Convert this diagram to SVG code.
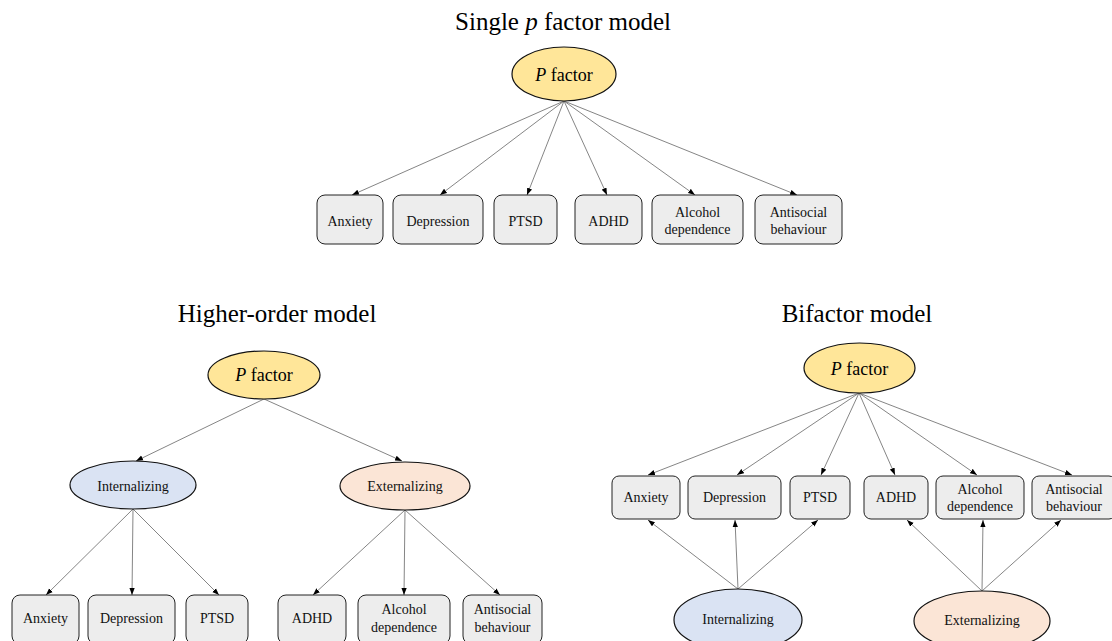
<svg xmlns="http://www.w3.org/2000/svg" width="1112" height="641" viewBox="0 0 1112 641">
<style>
.title{font-family:"Liberation Serif","Times New Roman",serif;font-size:25px;fill:#000;text-anchor:middle}
.lbl{font-family:"Liberation Serif","Times New Roman",serif;font-size:14px;fill:#111;text-anchor:middle}
.plbl{font-family:"Liberation Serif","Times New Roman",serif;font-size:18px;fill:#000;text-anchor:middle}
.box{fill:#EDEDED;stroke:#222;stroke-width:1}
.pf{fill:#FFE699;stroke:#111;stroke-width:1.2}
.inf{fill:#DAE3F3;stroke:#111;stroke-width:1.2}
.exf{fill:#FBE5D6;stroke:#111;stroke-width:1.2}
.con line{stroke:#666;stroke-width:0.8;marker-end:url(#ah)}
</style>
<defs>
<marker id="ah" viewBox="0 0 8 6" refX="8" refY="3" markerWidth="7" markerHeight="6" markerUnits="userSpaceOnUse" orient="auto">
<path d="M0,0 L8,3 L0,6 z" fill="#000"/>
</marker>
</defs>
<rect width="1112" height="641" fill="#fff"/>

<!-- Titles -->
<text class="title" x="563" y="30">Single <tspan font-style="italic">p</tspan> factor model</text>
<text class="title" x="277" y="322">Higher-order model</text>
<text class="title" x="857" y="322">Bifactor model</text>

<!-- Connectors -->
<g id="connectors" class="con">
<line x1="564" y1="101" x2="352" y2="195"/>
<line x1="564" y1="101" x2="440" y2="195"/>
<line x1="564" y1="101" x2="527" y2="195"/>
<line x1="564" y1="101" x2="607" y2="195"/>
<line x1="564" y1="101" x2="695" y2="195"/>
<line x1="564" y1="101" x2="797" y2="195"/>

<line x1="264" y1="399" x2="136" y2="461"/>
<line x1="264" y1="399" x2="402" y2="461"/>
<line x1="133" y1="509" x2="46" y2="595"/>
<line x1="133" y1="509" x2="132" y2="595"/>
<line x1="133" y1="509" x2="219" y2="595"/>
<line x1="405" y1="510" x2="313" y2="595"/>
<line x1="405" y1="510" x2="404" y2="595"/>
<line x1="405" y1="510" x2="500" y2="595"/>

<line x1="859" y1="393" x2="648" y2="475"/>
<line x1="859" y1="393" x2="737" y2="475"/>
<line x1="859" y1="393" x2="821" y2="475"/>
<line x1="859" y1="393" x2="895" y2="475"/>
<line x1="859" y1="393" x2="977" y2="475"/>
<line x1="859" y1="393" x2="1072" y2="475"/>
<line x1="738" y1="589" x2="648" y2="520"/>
<line x1="738" y1="589" x2="735" y2="520"/>
<line x1="738" y1="589" x2="818" y2="520"/>
<line x1="982" y1="591" x2="907" y2="520"/>
<line x1="982" y1="591" x2="983" y2="520"/>
<line x1="982" y1="591" x2="1061" y2="520"/>
</g>

<!-- Single p factor model -->
<g id="s-pfactor"><ellipse class="pf" cx="564" cy="74" rx="52" ry="27"/><text class="plbl" x="564" y="81"><tspan font-style="italic">P</tspan> factor</text></g>
<g id="s-anxiety"><rect class="box" x="317" y="195" width="66" height="49" rx="8"/><text class="lbl" x="350" y="226">Anxiety</text></g>
<g id="s-depression"><rect class="box" x="393" y="195" width="90" height="49" rx="8"/><text class="lbl" x="438" y="226">Depression</text></g>
<g id="s-ptsd"><rect class="box" x="494" y="195" width="63" height="49" rx="8"/><text class="lbl" x="525.5" y="226">PTSD</text></g>
<g id="s-adhd"><rect class="box" x="575" y="195" width="67" height="49" rx="8"/><text class="lbl" x="608.5" y="226">ADHD</text></g>
<g id="s-alcohol"><rect class="box" x="652" y="195" width="91" height="49" rx="8"/><text class="lbl" x="697.5" y="217">Alcohol</text><text class="lbl" x="697.5" y="234">dependence</text></g>
<g id="s-antisocial"><rect class="box" x="755" y="195" width="87" height="49" rx="8"/><text class="lbl" x="798.5" y="217">Antisocial</text><text class="lbl" x="798.5" y="234">behaviour</text></g>

<!-- Higher-order model -->
<g id="h-pfactor"><ellipse class="pf" cx="264" cy="375" rx="56" ry="24"/><text class="plbl" x="264" y="381"><tspan font-style="italic">P</tspan> factor</text></g>
<g id="h-internalizing"><ellipse class="inf" cx="133" cy="485" rx="63" ry="24"/><text class="lbl" x="133" y="491">Internalizing</text></g>
<g id="h-externalizing"><ellipse class="exf" cx="405" cy="486" rx="65" ry="24"/><text class="lbl" x="405" y="491">Externalizing</text></g>
<g id="h-anxiety"><rect class="box" x="12" y="595" width="67" height="49" rx="8"/><text class="lbl" x="45.5" y="623">Anxiety</text></g>
<g id="h-depression"><rect class="box" x="88" y="595" width="87" height="49" rx="8"/><text class="lbl" x="131.5" y="623">Depression</text></g>
<g id="h-ptsd"><rect class="box" x="186" y="595" width="62" height="49" rx="8"/><text class="lbl" x="217" y="623">PTSD</text></g>
<g id="h-adhd"><rect class="box" x="278" y="595" width="68" height="49" rx="8"/><text class="lbl" x="312" y="623">ADHD</text></g>
<g id="h-alcohol"><rect class="box" x="358" y="595" width="92" height="49" rx="8"/><text class="lbl" x="404" y="614">Alcohol</text><text class="lbl" x="404" y="632">dependence</text></g>
<g id="h-antisocial"><rect class="box" x="463" y="595" width="79" height="49" rx="8"/><text class="lbl" x="502.5" y="614">Antisocial</text><text class="lbl" x="502.5" y="632">behaviour</text></g>

<!-- Bifactor model -->
<g id="b-pfactor"><ellipse class="pf" cx="859.5" cy="368" rx="55.5" ry="25"/><text class="plbl" x="859.5" y="375"><tspan font-style="italic">P</tspan> factor</text></g>
<g id="b-anxiety"><rect class="box" x="612" y="476" width="68" height="43" rx="7"/><text class="lbl" x="646" y="502">Anxiety</text></g>
<g id="b-depression"><rect class="box" x="688" y="476" width="93" height="43" rx="7"/><text class="lbl" x="734.5" y="502">Depression</text></g>
<g id="b-ptsd"><rect class="box" x="790" y="476" width="60" height="43" rx="7"/><text class="lbl" x="820" y="502">PTSD</text></g>
<g id="b-adhd"><rect class="box" x="864" y="476" width="64" height="43" rx="7"/><text class="lbl" x="896" y="502">ADHD</text></g>
<g id="b-alcohol"><rect class="box" x="936" y="476" width="88" height="43" rx="7"/><text class="lbl" x="980" y="494">Alcohol</text><text class="lbl" x="980" y="511">dependence</text></g>
<g id="b-antisocial"><rect class="box" x="1032" y="476" width="84" height="43" rx="7"/><text class="lbl" x="1074" y="494">Antisocial</text><text class="lbl" x="1074" y="511">behaviour</text></g>
<g id="b-internalizing"><ellipse class="inf" cx="738" cy="620" rx="64" ry="31"/><text class="lbl" x="738" y="624">Internalizing</text></g>
<g id="b-externalizing"><ellipse class="exf" cx="982" cy="621" rx="68" ry="30"/><text class="lbl" x="982" y="625">Externalizing</text></g>
</svg>
